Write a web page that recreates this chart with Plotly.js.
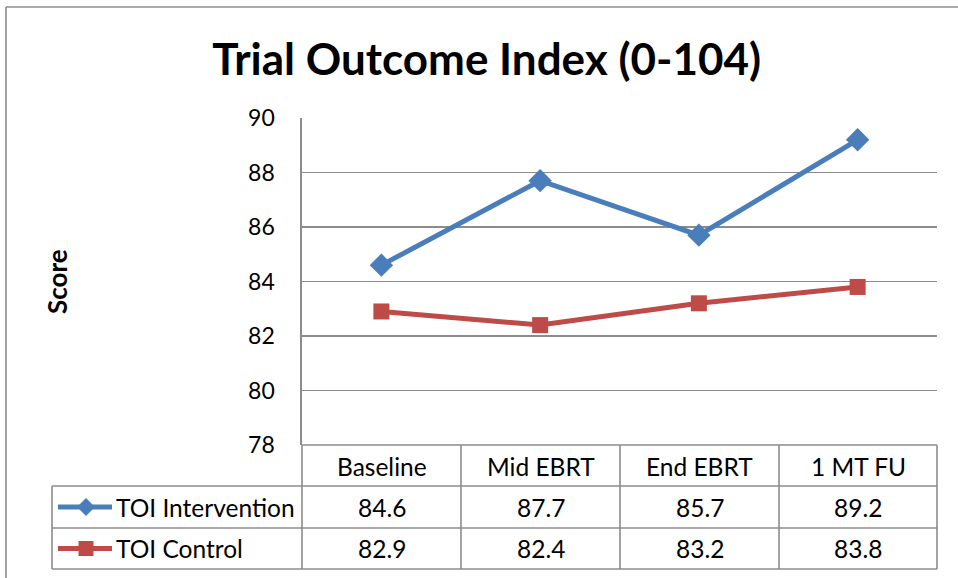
<!DOCTYPE html>
<html>
<head>
<meta charset="utf-8">
<script src="https://cdn.plot.ly/plotly-3.0.1.min.js"></script>
<style>html,body{margin:0;padding:0;background:#fff;}#chart{width:958px;height:578px;}</style>
</head>
<body>
<div id="chart"></div>
<script>
const categories = ["Baseline", "Mid EBRT", "End EBRT", "1 MT FU"];
const seriesNames = ["TOI Intervention", "TOI Control"];
const interventionValues = [84.6, 87.7, 85.7, 89.2];
const controlValues = [82.9, 82.4, 83.2, 83.8];
const yTicks = [78, 80, 82, 84, 86, 88, 90];

const W = 958, H = 578;
const L = 302, R = 937, T = 118, B = 445;
const px = x => (x - L) / (R - L);
const py = y => (B - y) / (B - T);
const FONT = "Lato, Calibri, 'Open Sans', sans-serif";
const GRID = "#8c8c8c";
const colors = ["#4a7ebb", "#be4b48"];
const symbols = ["diamond", "square"];
const allSeries = [interventionValues, controlValues];

const traces = allSeries.map((vals, i) => ({
  type: "scatter", mode: "lines+markers",
  x: categories, y: vals, name: seriesNames[i],
  line: {color: colors[i], width: 5},
  marker: {symbol: symbols[i], size: i === 0 ? 18 : 16, color: colors[i]},
  showlegend: false, hoverinfo: "x+y"
}));

const shapes = [];
const line = (x0, y0, x1, y1) => shapes.push({type: "line", xref: "paper", yref: "paper",
  x0: px(x0), y0: py(y0), x1: px(x1), y1: py(y1), line: {color: GRID, width: 1.6}});
// outer chart frame
line(6, 7, 960, 7);
line(6, 7, 6, 580);
// table
const colX = [302, 461, 620, 779, 937];
const rowY = [445, 486, 528, 569];
colX.forEach(x => line(x, 445, x, 569));
line(302, 445, 937, 445);
[486, 528, 569].forEach(y => line(52, y, 937, y));
line(52, 486, 52, 569);

const annotations = [];
const txt = (x, y, text, opts = {}) => annotations.push(Object.assign({
  xref: "paper", yref: "paper", x: px(x), y: py(y), text: text, showarrow: false,
  xanchor: "center", yanchor: "middle", font: {family: FONT, size: 24.5, color: "#000"}
}, opts));

categories.forEach((c, i) => txt((colX[i] + colX[i + 1]) / 2, 466, c));
allSeries.forEach((vals, r) => {
  vals.forEach((v, i) => txt((colX[i] + colX[i + 1]) / 2, (rowY[r + 1] + rowY[r + 2]) / 2, v.toFixed(1)));
  const cy = (rowY[r + 1] + rowY[r + 2]) / 2;
  txt(114, cy, seriesNames[r], {xanchor: "left"});
  // legend key line
  shapes.push({type: "line", xref: "paper", yref: "paper", x0: px(58), x1: px(112), y0: py(cy), y1: py(cy),
    line: {color: colors[r], width: 5}});
  if (r === 0) {
    const s = 9;
    shapes.push({type: "path", xref: "paper", yref: "paper",
      path: `M ${px(86)} ${py(cy - s)} L ${px(86 + s)} ${py(cy)} L ${px(86)} ${py(cy + s)} L ${px(86 - s)} ${py(cy)} Z`,
      fillcolor: colors[r], line: {width: 0}});
  } else {
    const s = 7.5;
    shapes.push({type: "rect", xref: "paper", yref: "paper",
      x0: px(86 - s), x1: px(86 + s), y0: py(cy - s), y1: py(cy + s),
      fillcolor: colors[r], line: {width: 0}});
  }
});
// y axis title
txt(57, 282, "<b>Score</b>", {textangle: -90, font: {family: FONT, size: 26, color: "#000"}});

const layout = {
  width: W, height: H,
  margin: {l: L, r: W - R, t: T, b: H - B, pad: 0},
  paper_bgcolor: "#fff", plot_bgcolor: "#fff",
  title: {text: "<b>Trial Outcome Index (0-104)</b>", x: 0.508, xanchor: "center", y: 0.897, yanchor: "middle",
    font: {family: FONT, size: 44, color: "#000"}},
  xaxis: {type: "category", range: [-0.5, 3.5], showticklabels: false, showgrid: false, zeroline: false,
    showline: false, fixedrange: true},
  yaxis: {range: [78, 90], tickvals: yTicks, ticktext: yTicks.map(String), showgrid: true, gridcolor: GRID, gridwidth: 1.6,
    zeroline: false, showline: true, linecolor: GRID, linewidth: 1.6, ticks: "", ticklabelstandoff: 21,
    tickfont: {family: FONT, size: 23, color: "#000"}, fixedrange: true},
  shapes: shapes, annotations: annotations, showlegend: false
};

Plotly.newPlot("chart", traces, layout, {displayModeBar: false, staticPlot: true});
</script>
</body>
</html>
